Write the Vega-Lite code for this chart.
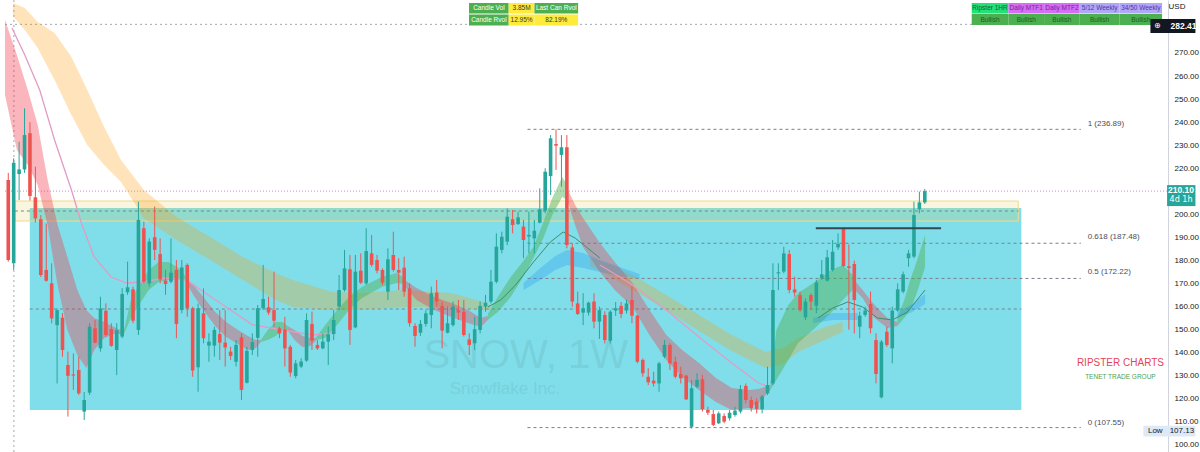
{
"$schema": "https://vega.github.io/schema/vega-lite/v6.json",
"width": 1168, "height": 452,
"autosize": {"type": "none"},
"padding": {"left": 0, "top": 0, "right": 32, "bottom": 0},
"background": "white",
"config": {"view": {"stroke": null}, "font": "Liberation Sans"},
"datasets": {
"candles": [
{"i":0,"o":214.9,"h":218,"l":179.5,"c":180.2},{"i":1,"o":178.8,"h":224.3,"l":175.9,"c":222.4},{"i":2,"o":217.5,"h":231.5,"l":206.2,"c":219.5},{"i":3,"o":219.5,"h":246,"l":218,"c":234.4},{"i":4,"o":235.2,"h":240,"l":206,"c":208},{"i":5,"o":207.4,"h":220.7,"l":196.5,"c":198.3},{"i":6,"o":197.9,"h":199.7,"l":172.9,"c":173.7},{"i":7,"o":175.9,"h":196,"l":170.8,"c":171.2},{"i":8,"o":170.1,"h":178.8,"l":152.8,"c":154.9},{"i":9,"o":152,"h":159.2,"l":126.7,"c":158.5},
{"i":10,"o":155.2,"h":157.2,"l":138.3,"c":141.2},{"i":11,"o":134.7,"h":140.5,"l":112.3,"c":130},{"i":12,"o":130.6,"h":139.7,"l":123.9,"c":130.1},{"i":13,"o":132.5,"h":138.3,"l":121.7,"c":122.4},{"i":14,"o":114.5,"h":123,"l":110.8,"c":119.5},{"i":15,"o":122.7,"h":152.8,"l":121.7,"c":151.3},{"i":16,"o":150.6,"h":154.2,"l":144.1,"c":144.4},{"i":17,"o":141.9,"h":164.3,"l":140.5,"c":159.2},{"i":18,"o":158.2,"h":161.4,"l":147,"c":147.7},{"i":19,"o":150.3,"h":152.8,"l":142.6,"c":143},
{"i":20,"o":141.2,"h":152.8,"l":130.3,"c":149.8},{"i":21,"o":147,"h":168,"l":146.3,"c":165.5},{"i":22,"o":166.2,"h":179.5,"l":165.1,"c":168.4},{"i":23,"o":167.5,"h":168.7,"l":152.8,"c":153.9},{"i":24,"o":149.9,"h":205.5,"l":147.7,"c":197.6},{"i":25,"o":194,"h":196.9,"l":170.1,"c":170.8},{"i":26,"o":170.1,"h":189.6,"l":168.7,"c":188.2},{"i":27,"o":190.1,"h":203.4,"l":180.2,"c":184.6},{"i":28,"o":182.8,"h":189.6,"l":170.1,"c":171.8},{"i":29,"o":171.3,"h":176,"l":165.1,"c":169.8},
{"i":30,"o":170.8,"h":189.6,"l":170.1,"c":174.7},{"i":31,"o":175.9,"h":180.2,"l":146.3,"c":152.5},{"i":32,"o":158.5,"h":180.2,"l":157.1,"c":177},{"i":33,"o":178.1,"h":178.8,"l":155.6,"c":159.3},{"i":34,"o":159.3,"h":160,"l":129.6,"c":132.3},{"i":35,"o":133.7,"h":161.4,"l":123.1,"c":159.3},{"i":36,"o":157.1,"h":167.9,"l":144.1,"c":146.3},{"i":37,"o":143.1,"h":148.4,"l":136.1,"c":144.8},{"i":38,"o":143.1,"h":151.3,"l":138.3,"c":149.9},{"i":39,"o":148.1,"h":158.5,"l":136.9,"c":144.4},
{"i":40,"o":144.4,"h":158.5,"l":134,"c":142.3},{"i":41,"o":140.5,"h":142.6,"l":136.9,"c":138.6},{"i":42,"o":136.1,"h":145.5,"l":134,"c":143.4},{"i":43,"o":146.7,"h":148.4,"l":119.5,"c":123.9},{"i":44,"o":127,"h":142.6,"l":126.7,"c":140.8},{"i":45,"o":141.2,"h":148.4,"l":139,"c":144.6},{"i":46,"o":146.5,"h":160.7,"l":138.3,"c":159.3},{"i":47,"o":159.3,"h":178.1,"l":158.5,"c":163.3},{"i":48,"o":159.7,"h":164.3,"l":156.4,"c":157.4},{"i":49,"o":158.5,"h":175.2,"l":151.3,"c":153.9},
{"i":50,"o":150.6,"h":151.3,"l":146.3,"c":148.4},{"i":51,"o":150.1,"h":155.6,"l":134,"c":141.9},{"i":52,"o":142.6,"h":143.4,"l":129.6,"c":131.4},{"i":53,"o":129.9,"h":136.9,"l":128.9,"c":135.4},{"i":54,"o":134,"h":137.6,"l":133.3,"c":136.2},{"i":55,"o":136.6,"h":157.1,"l":136.1,"c":154.2},{"i":56,"o":152.5,"h":157.8,"l":141.2,"c":145.3},{"i":57,"o":143.4,"h":145.5,"l":141.2,"c":141.9},{"i":58,"o":141.9,"h":148.4,"l":141.5,"c":144.8},{"i":59,"o":144.8,"h":151.3,"l":134.7,"c":148},
{"i":60,"o":148.1,"h":158.5,"l":145.5,"c":154.2},{"i":61,"o":160,"h":173.7,"l":158.5,"c":167.2},{"i":62,"o":167.2,"h":184.6,"l":166.5,"c":176.6},{"i":63,"o":176.2,"h":182.4,"l":143.4,"c":149.9},{"i":64,"o":151,"h":182.4,"l":150.6,"c":175.2},{"i":65,"o":175.6,"h":183.1,"l":169.8,"c":170.4},{"i":66,"o":170.1,"h":194,"l":169.4,"c":184.1},{"i":67,"o":183.1,"h":191.1,"l":177.3,"c":178.1},{"i":68,"o":180.2,"h":182.4,"l":174.4,"c":175.6},{"i":69,"o":175.9,"h":176.6,"l":169.4,"c":170.4},
{"i":70,"o":166.5,"h":185.3,"l":162.9,"c":180.5},{"i":71,"o":182.4,"h":192.5,"l":175.2,"c":175.9},{"i":72,"o":175.9,"h":181,"l":167.2,"c":174.7},{"i":73,"o":176.9,"h":181.7,"l":164.3,"c":166.5},{"i":74,"o":167.9,"h":170.1,"l":151.3,"c":152.8},{"i":75,"o":151.6,"h":152.8,"l":142.6,"c":147.3},{"i":76,"o":148.7,"h":154.2,"l":147.3,"c":152.5},{"i":77,"o":152.5,"h":158.5,"l":151.3,"c":157.1},{"i":78,"o":156.4,"h":168.7,"l":150.6,"c":165.8},{"i":79,"o":166.1,"h":171.6,"l":160,"c":162.2},
{"i":80,"o":160.3,"h":162.2,"l":141.9,"c":149.6},{"i":81,"o":148.7,"h":160,"l":148.4,"c":152.8},{"i":82,"o":152,"h":162.2,"l":151.3,"c":160},{"i":83,"o":158.5,"h":162.9,"l":154.2,"c":157.4},{"i":84,"o":157.8,"h":162.9,"l":147,"c":147.7},{"i":85,"o":145.8,"h":148.4,"l":139,"c":143.4},{"i":86,"o":144.1,"h":155.6,"l":141.2,"c":150.2},{"i":87,"o":149.9,"h":162.2,"l":148.4,"c":160.3},{"i":88,"o":160,"h":165.1,"l":157.8,"c":161.7},{"i":89,"o":162.2,"h":175.9,"l":161.4,"c":170.8},
{"i":90,"o":170.8,"h":191.8,"l":170.1,"c":186},{"i":91,"o":184.6,"h":192.5,"l":183.1,"c":190.3},{"i":92,"o":188.2,"h":202.6,"l":186.7,"c":199},{"i":93,"o":197.9,"h":201.9,"l":191.8,"c":195.4},{"i":94,"o":195.8,"h":201.2,"l":195.4,"c":198.7},{"i":95,"o":194.7,"h":197.6,"l":181,"c":188.9},{"i":96,"o":190.4,"h":201.2,"l":183.1,"c":191.1},{"i":97,"o":189.6,"h":197.6,"l":183.1,"c":192.9},{"i":98,"o":196.4,"h":211.3,"l":196.1,"c":202.2},{"i":99,"o":201.6,"h":220,"l":200.5,"c":218.5},
{"i":100,"o":216.6,"h":234.4,"l":208.4,"c":233},{"i":101,"o":230.5,"h":236.89,"l":219.3,"c":229.8},{"i":102,"o":225.8,"h":234.4,"l":212,"c":229.1},{"i":103,"o":229.1,"h":234.4,"l":185.3,"c":186.7},{"i":104,"o":185.7,"h":187.4,"l":160,"c":162.2},{"i":105,"o":161.4,"h":166.5,"l":156.4,"c":156.8},{"i":106,"o":157.4,"h":165.8,"l":152,"c":159.3},{"i":107,"o":157.4,"h":162.2,"l":156.1,"c":161.7},{"i":108,"o":162.2,"h":165.8,"l":150.6,"c":153.5},{"i":109,"o":153.5,"h":160,"l":146,"c":158.5},
{"i":110,"o":156.4,"h":158,"l":144,"c":145.5},{"i":111,"o":145.2,"h":158.5,"l":144,"c":157.8},{"i":112,"o":158.3,"h":162,"l":156,"c":159.3},{"i":113,"o":160.3,"h":162,"l":155,"c":156.8},{"i":114,"o":158.3,"h":163,"l":157,"c":161.4},{"i":115,"o":162.9,"h":168.7,"l":152.8,"c":156.1},{"i":116,"o":156.1,"h":156.4,"l":135.4,"c":136.1},{"i":117,"o":136.9,"h":137.5,"l":129.6,"c":131.1},{"i":118,"o":129.6,"h":133.3,"l":126,"c":127.2},{"i":119,"o":127.9,"h":131.8,"l":125.3,"c":126.7},
{"i":120,"o":126.7,"h":136.1,"l":123.1,"c":135.4},{"i":121,"o":138.3,"h":145.5,"l":137.6,"c":143.4},{"i":122,"o":143.4,"h":144.1,"l":132.5,"c":135.4},{"i":123,"o":136.1,"h":138.3,"l":128.9,"c":129.6},{"i":124,"o":130.8,"h":134,"l":126.7,"c":128.9},{"i":125,"o":130.1,"h":130.4,"l":119.5,"c":119.8},{"i":126,"o":107.9,"h":128.2,"l":107.13,"c":124.6},{"i":127,"o":125.3,"h":131.1,"l":124.6,"c":128.2},{"i":128,"o":128.5,"h":130.4,"l":114.5,"c":115.5},{"i":129,"o":115.2,"h":116.6,"l":113,"c":114},
{"i":130,"o":113.4,"h":115.2,"l":108.2,"c":108.7},{"i":131,"o":109.4,"h":114.5,"l":109.1,"c":113.7},{"i":132,"o":112.6,"h":113.7,"l":109.4,"c":110.1},{"i":133,"o":111.6,"h":115.2,"l":110.6,"c":114},{"i":134,"o":113,"h":116.6,"l":112.3,"c":114.9},{"i":135,"o":114.5,"h":126,"l":113.7,"c":124.2},{"i":136,"o":125.6,"h":126.7,"l":118.1,"c":119.5},{"i":137,"o":119.5,"h":121,"l":114.5,"c":115.9},{"i":138,"o":118.8,"h":120.2,"l":113.7,"c":115.6},{"i":139,"o":115.5,"h":121.7,"l":113.7,"c":121},
{"i":140,"o":122.4,"h":134,"l":121.7,"c":126},{"i":141,"o":126.7,"h":178.8,"l":126,"c":167.2},{"i":142,"o":174.4,"h":178.8,"l":167.2,"c":174.9},{"i":143,"o":175.2,"h":186,"l":174.4,"c":183.1},{"i":144,"o":182.8,"h":184.6,"l":165.8,"c":167.2},{"i":145,"o":167.5,"h":173,"l":164.3,"c":166.1},{"i":146,"o":165,"h":166.5,"l":157.8,"c":158.5},{"i":147,"o":155.4,"h":163.6,"l":154.2,"c":162.2},{"i":148,"o":165,"h":165.8,"l":158.5,"c":162.2},{"i":149,"o":160.4,"h":171.6,"l":157.1,"c":170.5},
{"i":150,"o":172.3,"h":180.2,"l":171.6,"c":174},{"i":151,"o":171.3,"h":184.6,"l":170.8,"c":181.4},{"i":152,"o":175.9,"h":188.9,"l":175.2,"c":183.8},{"i":153,"o":185.7,"h":191.8,"l":184.6,"c":187.2},{"i":154,"o":193.7,"h":194.2,"l":177.3,"c":177.6},{"i":155,"o":177.5,"h":187,"l":150,"c":176.8},{"i":156,"o":178.5,"h":180,"l":148.4,"c":162.9},{"i":157,"o":151.3,"h":157.8,"l":146.3,"c":156.1},{"i":158,"o":156.4,"h":160,"l":155.6,"c":158.3},{"i":159,"o":161.1,"h":166.5,"l":148.4,"c":150.6},
{"i":160,"o":145.5,"h":148.4,"l":126.7,"c":130.8},{"i":161,"o":120.7,"h":145.5,"l":120.2,"c":144.8},{"i":162,"o":149.1,"h":151.3,"l":142.6,"c":143.4},{"i":163,"o":141.9,"h":160,"l":135.4,"c":158.3},{"i":164,"o":158.3,"h":170.1,"l":157.8,"c":167.5},{"i":165,"o":166.5,"h":175.2,"l":165.8,"c":174},{"i":166,"o":181,"h":184.6,"l":177.3,"c":183.1},{"i":167,"o":181.7,"h":205.5,"l":181,"c":199.7},{"i":168,"o":202.2,"h":209.9,"l":200.5,"c":205.2},{"i":169,"o":205.2,"h":211,"l":204.5,"c":210.1}
],
"redc": [
{"g":"F1","i":-0.6,"a":284.3,"b":251.77},{"g":"F1","i":1.59,"a":269.12,"b":227.92},{"g":"F1","i":3.6,"a":253.94,"b":221.42},{"g":"F1","i":5.43,"a":238.76,"b":212.75},{"g":"F1","i":7.26,"a":214.91,"b":195.4},{"g":"F1","i":9.09,"a":195.4,"b":169.38},{"g":"F1","i":10.91,"a":181.52,"b":149.87},{"g":"F1","i":12.74,"a":167.21,"b":139.02},{"g":"F1","i":14.39,"a":158.54,"b":133.39},{"g":"F1","i":15.85,"a":155.07,"b":141.19},{"g":"F1","i":17.68,"a":153.34,"b":146.4},{"g":"F1","i":19.51,"a":151.17,"b":148.13},{"g":"F1","i":21.34,"a":149.0,"b":148.13},
{"g":"F3","i":32.67,"a":172.85,"b":171.12},{"g":"F3","i":34.13,"a":169.38,"b":165.05},{"g":"F3","i":35.96,"a":164.17,"b":158.54},{"g":"F3","i":38.15,"a":157.67,"b":151.6},{"g":"F3","i":40.17,"a":153.34,"b":146.83},{"g":"F3","i":42.36,"a":149.87,"b":143.79},{"g":"F3","i":44.19,"a":147.26,"b":141.19},{"g":"F3","i":45.65,"a":145.53,"b":142.06},{"g":"F3","i":46.57,"a":145.53,"b":144.66},
{"g":"F5","i":51.5,"a":151.6,"b":149.87},{"g":"F5","i":52.78,"a":149.87,"b":145.53},{"g":"F5","i":54.24,"a":147.26,"b":142.49},{"g":"F5","i":55.71,"a":146.4,"b":142.93},{"g":"F5","i":56.8,"a":146.4,"b":145.53},
{"g":"F7","i":73.07,"a":171.55,"b":168.95},{"g":"F7","i":75.27,"a":168.08,"b":162.87},{"g":"F7","i":78.56,"a":164.17,"b":158.54},{"g":"F7","i":81.67,"a":161.57,"b":155.5},{"g":"F7","i":84.77,"a":158.54,"b":152.9},{"g":"F7","i":87.15,"a":155.07,"b":151.17},{"g":"F7","i":88.43,"a":155.94,"b":154.2},
{"g":"F9","i":103.06,"a":211.45,"b":206.24},{"g":"F9","i":104.52,"a":204.07,"b":195.4},{"g":"F9","i":105.98,"a":198.43,"b":185.86},{"g":"F9","i":109.09,"a":187.59,"b":175.02},{"g":"F9","i":111.83,"a":179.35,"b":167.21},{"g":"F9","i":115.12,"a":170.25,"b":159.84},{"g":"F9","i":118.23,"a":158.54,"b":147.7},{"g":"F9","i":121.34,"a":147.7,"b":136.85},{"g":"F9","i":124.26,"a":141.19,"b":129.48},{"g":"F9","i":127.37,"a":135.55,"b":123.85},{"g":"F9","i":130.48,"a":129.05,"b":118.64},{"g":"F9","i":133.4,"a":124.71,"b":115.17},{"g":"F9","i":136.51,"a":123.85,"b":116.04},{"g":"F9","i":138.34,"a":124.28,"b":118.21},{"g":"F9","i":140.53,"a":126.02,"b":123.85},
{"g":"F11","i":155.71,"a":172.42,"b":168.08},{"g":"F11","i":157.53,"a":167.21,"b":163.74},{"g":"F11","i":159.73,"a":160.71,"b":155.07},{"g":"F11","i":162.11,"a":155.07,"b":150.73},{"g":"F11","i":163.93,"a":153.34,"b":151.6}
],
"greenc": [
{"g":"F2","i":21.34,"a":149.87,"b":148.13},{"g":"F2","i":22.61,"a":162.87,"b":155.07},{"g":"F2","i":24.08,"a":169.38,"b":160.71},{"g":"F2","i":25.91,"a":175.88,"b":167.21},{"g":"F2","i":27.73,"a":179.35,"b":170.68},{"g":"F2","i":29.56,"a":179.35,"b":171.55},{"g":"F2","i":31.39,"a":176.75,"b":171.55},{"g":"F2","i":32.67,"a":173.28,"b":171.55},
{"g":"F4","i":46.57,"a":145.53,"b":144.66},{"g":"F4","i":47.84,"a":149.87,"b":145.53},{"g":"F4","i":49.31,"a":153.34,"b":147.26},{"g":"F4","i":50.59,"a":153.34,"b":149.87},{"g":"F4","i":51.5,"a":151.6,"b":149.87},
{"g":"F6","i":56.8,"a":146.83,"b":145.53},{"g":"F6","i":58.45,"a":152.03,"b":146.4},{"g":"F6","i":60.64,"a":158.54,"b":152.03},{"g":"F6","i":62.83,"a":164.17,"b":158.54},{"g":"F6","i":65.21,"a":168.51,"b":163.74},{"g":"F6","i":68.87,"a":172.85,"b":168.51},{"g":"F6","i":71.61,"a":174.59,"b":170.25},{"g":"F6","i":73.07,"a":172.42,"b":169.81},
{"g":"F8","i":88.43,"a":156.81,"b":154.2},{"g":"F8","i":90.26,"a":164.17,"b":157.67},{"g":"F8","i":92.64,"a":172.85,"b":164.17},{"g":"F8","i":94.83,"a":179.35,"b":172.42},{"g":"F8","i":96.84,"a":185.86,"b":181.09},{"g":"F8","i":98.67,"a":196.71,"b":189.78},{"g":"F8","i":100.31,"a":207.11,"b":199.74},{"g":"F8","i":102.14,"a":216.21,"b":207.54},{"g":"F8","i":103.06,"a":212.75,"b":206.24},
{"g":"F10","i":140.53,"a":126.88,"b":123.85},{"g":"F10","i":141.63,"a":149.87,"b":128.18},{"g":"F10","i":143.83,"a":160.71,"b":136.85},{"g":"F10","i":145.65,"a":165.91,"b":144.23},{"g":"F10","i":148.76,"a":170.68,"b":150.73},{"g":"F10","i":151.69,"a":175.88,"b":157.24},{"g":"F10","i":153.88,"a":178.05,"b":162.87},{"g":"F10","i":155.71,"a":173.72,"b":167.21},
{"g":"F12","i":163.93,"a":155.07,"b":151.6},{"g":"F12","i":165.22,"a":162.87,"b":155.07},{"g":"F12","i":166.31,"a":171.55,"b":158.54},{"g":"F12","i":167.59,"a":180.22,"b":166.35},{"g":"F12","i":169.05,"a":191.06,"b":177.18}
],
"orangec": [
{"g":"S1","i":0.86,"a":291.67,"b":286.03},{"g":"S1","i":3.05,"a":289.5,"b":279.96},{"g":"S1","i":5.43,"a":283.43,"b":272.15},{"g":"S1","i":8.54,"a":278.66,"b":258.28},{"g":"S1","i":11.65,"a":268.25,"b":243.1},{"g":"S1","i":14.57,"a":253.94,"b":230.09},{"g":"S1","i":17.68,"a":237.9,"b":221.42},{"g":"S1","i":20.79,"a":223.59,"b":214.05},{"g":"S1","i":25.0,"a":210.58,"b":198.44},{"g":"S1","i":31.02,"a":198.87,"b":188.89},{"g":"S1","i":37.24,"a":190.2,"b":180.22},{"g":"S1","i":43.27,"a":181.52,"b":171.55},{"g":"S1","i":49.31,"a":174.59,"b":162.87},{"g":"S1","i":52.42,"a":171.55,"b":159.84},{"g":"S1","i":59.73,"a":166.35,"b":158.54},{"g":"S1","i":65.21,"a":165.91,"b":158.54},{"g":"S1","i":72.53,"a":167.21,"b":159.84},{"g":"S1","i":81.67,"a":165.91,"b":159.84},{"g":"S1","i":87.7,"a":162.01,"b":158.54},{"g":"S1","i":88.98,"a":160.28,"b":158.97},
{"g":"S2","i":107.26,"a":181.09,"b":177.62},{"g":"S2","i":110.92,"a":178.49,"b":173.28},{"g":"S2","i":115.12,"a":173.72,"b":167.21},{"g":"S2","i":121.34,"a":165.05,"b":158.54},{"g":"S2","i":127.37,"a":156.37,"b":149.43},{"g":"S2","i":133.4,"a":147.7,"b":140.76},{"g":"S2","i":139.62,"a":140.33,"b":133.39},{"g":"S2","i":142.91,"a":142.06,"b":135.12},{"g":"S2","i":145.65,"a":146.4,"b":140.33},{"g":"S2","i":150.59,"a":151.17,"b":145.53},{"g":"S2","i":153.88,"a":153.34,"b":149.0}
],
"bluec": [
{"g":"B1","i":95.01,"a":170.25,"b":167.21},{"g":"B1","i":98.12,"a":176.75,"b":171.55},{"g":"B1","i":100.86,"a":181.96,"b":175.88},{"g":"B1","i":103.06,"a":184.56,"b":178.05},{"g":"B1","i":105.98,"a":183.26,"b":176.75},{"g":"B1","i":109.09,"a":180.22,"b":175.02},{"g":"B1","i":112.74,"a":177.18,"b":173.28},{"g":"B1","i":116.4,"a":174.15,"b":171.98},
{"g":"B2","i":148.4,"a":155.07,"b":152.9},{"g":"B2","i":152.05,"a":157.24,"b":154.2},{"g":"B2","i":156.62,"a":157.24,"b":154.2},
{"g":"B3","i":163.93,"a":157.67,"b":155.07},{"g":"B3","i":166.68,"a":161.14,"b":157.67},{"g":"B3","i":169.05,"a":165.48,"b":161.14}
],
"pinkl": [
{"g":"P1","i":0.68,"p":280.83},{"g":"P1","i":3.05,"p":269.12},{"g":"P1","i":5.8,"p":253.94},{"g":"P1","i":8.54,"p":232.26},{"g":"P1","i":11.65,"p":210.58},{"g":"P1","i":13.47,"p":196.27},{"g":"P1","i":15.85,"p":181.52},{"g":"P1","i":18.96,"p":172.85},{"g":"P1","i":21.88,"p":170.25},{"g":"P1","i":25.0,"p":170.68},{"g":"P1","i":28.65,"p":172.42},{"g":"P1","i":32.85,"p":171.55},{"g":"P1","i":36.87,"p":165.05},{"g":"P1","i":40.17,"p":159.84},{"g":"P1","i":45.1,"p":152.03},{"g":"P1","i":50.59,"p":149.87},{"g":"P1","i":56.07,"p":147.7},{"g":"P1","i":59.73,"p":148.57},
{"g":"P2","i":109.09,"p":178.05},{"g":"P2","i":114.57,"p":170.25},{"g":"P2","i":121.34,"p":158.54},{"g":"P2","i":127.37,"p":146.83},{"g":"P2","i":133.4,"p":135.55},{"g":"P2","i":138.34,"p":126.88},{"g":"P2","i":140.53,"p":125.15}
],
"greenl": [
{"g":"L1","i":88.43,"p":159.84},{"g":"L1","i":90.81,"p":162.88},{"g":"L1","i":93.55,"p":169.38},{"g":"L1","i":96.84,"p":179.35},{"g":"L1","i":99.95,"p":188.02},{"g":"L1","i":102.32,"p":192.36},{"g":"L1","i":104.52,"p":189.76},{"g":"L1","i":107.26,"p":184.56},{"g":"L1","i":109.09,"p":181.09},
{"g":"L2","i":149.31,"p":155.07},{"g":"L2","i":152.05,"p":159.41},{"g":"L2","i":154.79,"p":162.01},{"g":"L2","i":157.53,"p":159.84},{"g":"L2","i":160.28,"p":155.07},{"g":"L2","i":163.02,"p":154.2},{"g":"L2","i":165.77,"p":157.67},{"g":"L2","i":169.05,"p":167.21}
],
"zones": [
{"k":"cyan","x0":3.97,"x1":186.8,"p0":202.77,"p1":115.17},
{"k":"yellow","x0":1.22,"x1":186.24,"p0":205.8,"p1":197.13}
],
"hlines": [
{"k":"fib","x0":95.74,"x1":197.76,"p":236.89},{"k":"fib","x0":95.74,"x1":197.76,"p":187.48},{"k":"fib","x0":95.74,"x1":197.76,"p":172.22},{"k":"fib","x0":95.74,"x1":197.76,"p":107.55},
{"k":"mid","x0":3.97,"x1":186.8,"p":158.97},{"k":"mid","x0":1.22,"x1":186.24,"p":201.47},
{"k":"top","x0":-0.6,"x1":210.6,"p":282.41},{"k":"last","x0":-0.6,"x1":213.6,"p":210.1},
{"k":"level","x0":148.9,"x1":172.0,"p":194}
],
"vline": [{"i":1.04,"p0":96.96,"p1":292.97}],
"labels": [
{"k":"fib","t":"1 (236.89)","i":199.03,"p":239.2},{"k":"fib","t":"0.618 (187.48)","i":199.03,"p":190.2},{"k":"fib","t":"0.5 (172.22)","i":199.03,"p":175.0},{"k":"fib","t":"0 (107.55)","i":199.03,"p":109.5},
{"k":"wm1","t":"SNOW, 1W","i":95.4,"p":138.6},{"k":"wm2","t":"Snowflake Inc.","i":91.6,"p":124.3},
{"k":"rip","t":"RIPSTER CHARTS","i":205.07,"p":135.6},{"k":"tenet","t":"TENET TRADE GROUP","i":205.07,"p":129.5}
],
"boxes": [
{"k":"g","t":"Candle Vol","x0":84.96,"x1":92.27,"xm":88.62,"p0":291.67,"p1":287.12,"pm":289.4},
{"k":"y","t":"3.85M","x0":92.27,"x1":97.03,"xm":94.65,"p0":291.67,"p1":287.12,"pm":289.4},
{"k":"g","t":"Last Can Rvol","x0":97.03,"x1":105.07,"xm":101.05,"p0":291.67,"p1":287.12,"pm":289.4},
{"k":"g","t":"Candle Rvol","x0":84.96,"x1":92.27,"xm":88.62,"p0":286.68,"p1":281.91,"pm":284.3},
{"k":"y","t":"12.95%","x0":92.27,"x1":97.03,"xm":94.65,"p0":286.68,"p1":281.91,"pm":284.3},
{"k":"y","t":"82.19%","x0":97.03,"x1":105.07,"xm":101.05,"p0":286.68,"p1":281.91,"pm":284.3},
{"k":"lime","t":"Ripster 1HR","x0":177.65,"x1":184.41,"xm":181.03,"p0":291.67,"p1":287.12,"pm":289.4},
{"k":"orchid","t":"Daily MTF1","x0":184.41,"x1":190.99,"xm":187.7,"p0":291.67,"p1":287.12,"pm":289.4},
{"k":"orchid","t":"Daily MTF2","x0":190.99,"x1":197.57,"xm":194.28,"p0":291.67,"p1":287.12,"pm":289.4},
{"k":"lav","t":"5/12 Weekly","x0":197.57,"x1":204.88,"xm":201.23,"p0":291.67,"p1":287.12,"pm":289.4},
{"k":"lav","t":"34/50 Weekly","x0":204.88,"x1":212.75,"xm":208.82,"p0":291.67,"p1":287.12,"pm":289.4},
{"k":"bull","t":"Bullish","x0":177.65,"x1":184.41,"xm":181.03,"p0":286.9,"p1":282.13,"pm":284.5},
{"k":"bull","t":"Bullish","x0":184.41,"x1":190.99,"xm":187.7,"p0":286.9,"p1":282.13,"pm":284.5},
{"k":"bull","t":"Bullish","x0":190.99,"x1":197.57,"xm":194.28,"p0":286.9,"p1":282.13,"pm":284.5},
{"k":"bull","t":"Bullish","x0":197.57,"x1":204.88,"xm":201.23,"p0":286.9,"p1":282.13,"pm":284.5},
{"k":"bull","t":"Bullish","x0":204.88,"x1":212.75,"xm":208.82,"p0":286.9,"p1":282.13,"pm":284.5},
{"k":"dark","t":"","x0":210.6,"x1":218.9,"xm":214.7,"p0":284.73,"p1":278.66,"pm":281.7},
{"k":"teal","t":"","x0":213.67,"x1":218.9,"xm":216.2,"p0":212.7,"p1":203.6,"pm":208.1},
{"k":"low","t":"","x0":209.3,"x1":218.9,"xm":214.1,"p0":108.3,"p1":103.7,"pm":106.0}
],
"btext": [
{"k":"wb","t":"282.41","i":216.7,"p":281.7},{"k":"w","t":"⊕","i":211.9,"p":281.8},
{"k":"wb","t":"210.10","i":216.25,"p":210.7},{"k":"w","t":"4d 1h","i":216.25,"p":206.1},
{"k":"d","t":"Low","i":211.5,"p":106.0},{"k":"d","t":"107.13","i":216.4,"p":106.0},
{"k":"d","t":"USD","i":215.5,"p":289.9}
]
},
"layer": [
{"data": {"name": "zones"}, "transform": [{"filter": "datum.k == 'cyan'"}],
 "mark": {"type": "rect", "fill": "#80deea"},
 "encoding": {
  "x": {"field": "x0", "type": "quantitative", "scale": {"domain": [-0.603, 212.92], "nice": false, "zero": false}, "axis": null},
  "x2": {"field": "x1"},
  "y": {"field": "p0", "type": "quantitative", "scale": {"domain": [96.96, 292.97], "nice": false, "zero": false},
        "axis": {"orient": "right", "title": null, "values": [100,110,120,130,140,150,160,170,180,190,200,220,230,240,250,260,270], "tickCount": 40, "format": ".2f", "ticks": false, "grid": false, "domainColor": "#d1d4dc", "labelColor": "#131722", "labelFontSize": 8, "labelPadding": 6, "labelOverlap": false, "labelBound": false, "labelFont": "Liberation Sans"}},
  "y2": {"field": "p1"}}},
{"data": {"name": "zones"}, "transform": [{"filter": "datum.k == 'yellow'"}],
 "mark": {"type": "rect", "fill": "#e6c84a", "fillOpacity": 0.18, "stroke": "#f1d98e", "strokeWidth": 1},
 "encoding": {"x": {"field": "x0", "type": "quantitative", "axis": null}, "x2": {"field": "x1"}, "y": {"field": "p0", "type": "quantitative"}, "y2": {"field": "p1"}}},
{"data": {"name": "labels"}, "transform": [{"filter": "datum.k == 'wm1'"}],
 "mark": {"type": "text", "fontSize": 40, "font": "Liberation Sans", "color": "#000000", "opacity": 0.06},
 "encoding": {"x": {"field": "i", "type": "quantitative", "axis": null}, "y": {"field": "p", "type": "quantitative"}, "text": {"field": "t"}}},
{"data": {"name": "labels"}, "transform": [{"filter": "datum.k == 'wm2'"}],
 "mark": {"type": "text", "fontSize": 17, "font": "Liberation Sans", "color": "#000000", "opacity": 0.06},
 "encoding": {"x": {"field": "i", "type": "quantitative", "axis": null}, "y": {"field": "p", "type": "quantitative"}, "text": {"field": "t"}}},
{"data": {"name": "hlines"}, "transform": [{"filter": "datum.k == 'mid'"}],
 "mark": {"type": "rule", "color": "#6f8790", "strokeWidth": 1, "strokeDash": [3, 3]},
 "encoding": {"x": {"field": "x0", "type": "quantitative", "axis": null}, "x2": {"field": "x1"}, "y": {"field": "p", "type": "quantitative"}}},
{"data": {"name": "hlines"}, "transform": [{"filter": "datum.k == 'fib'"}],
 "mark": {"type": "rule", "color": "#7b7f8a", "strokeWidth": 1, "strokeDash": [3, 3]},
 "encoding": {"x": {"field": "x0", "type": "quantitative", "axis": null}, "x2": {"field": "x1"}, "y": {"field": "p", "type": "quantitative"}}},
{"data": {"name": "hlines"}, "transform": [{"filter": "datum.k == 'top'"}],
 "mark": {"type": "rule", "color": "#a3a6ae", "strokeWidth": 1, "strokeDash": [2, 3]},
 "encoding": {"x": {"field": "x0", "type": "quantitative", "axis": null}, "x2": {"field": "x1"}, "y": {"field": "p", "type": "quantitative"}}},
{"data": {"name": "hlines"}, "transform": [{"filter": "datum.k == 'last'"}],
 "mark": {"type": "rule", "color": "#c58cc4", "strokeWidth": 1, "strokeDash": [1, 2]},
 "encoding": {"x": {"field": "x0", "type": "quantitative", "axis": null}, "x2": {"field": "x1"}, "y": {"field": "p", "type": "quantitative"}}},
{"data": {"name": "vline"},
 "mark": {"type": "rule", "color": "#a3a6ae", "strokeWidth": 1, "strokeDash": [2, 3]},
 "encoding": {"x": {"field": "i", "type": "quantitative", "axis": null}, "y": {"field": "p0", "type": "quantitative"}, "y2": {"field": "p1"}}},
{"data": {"name": "orangec"},
 "mark": {"type": "area", "color": "#ff9800", "opacity": 0.27},
 "encoding": {"x": {"field": "i", "type": "quantitative", "axis": null}, "y": {"field": "a", "type": "quantitative"}, "y2": {"field": "b"}, "detail": {"field": "g"}}},
{"data": {"name": "redc"},
 "mark": {"type": "area", "color": "#f23645", "opacity": 0.36},
 "encoding": {"x": {"field": "i", "type": "quantitative", "axis": null}, "y": {"field": "a", "type": "quantitative"}, "y2": {"field": "b"}, "detail": {"field": "g"}}},
{"data": {"name": "greenc"},
 "mark": {"type": "area", "color": "#4caf50", "opacity": 0.45},
 "encoding": {"x": {"field": "i", "type": "quantitative", "axis": null}, "y": {"field": "a", "type": "quantitative"}, "y2": {"field": "b"}, "detail": {"field": "g"}}},
{"data": {"name": "bluec"},
 "mark": {"type": "area", "color": "#2196f3", "opacity": 0.3},
 "encoding": {"x": {"field": "i", "type": "quantitative", "axis": null}, "y": {"field": "a", "type": "quantitative"}, "y2": {"field": "b"}, "detail": {"field": "g"}}},
{"data": {"name": "pinkl"},
 "mark": {"type": "line", "color": "#e39bc4", "strokeWidth": 1.3},
 "encoding": {"x": {"field": "i", "type": "quantitative", "axis": null}, "y": {"field": "p", "type": "quantitative"}, "detail": {"field": "g"}}},
{"data": {"name": "greenl"},
 "mark": {"type": "line", "color": "#3e8e6a", "strokeWidth": 1},
 "encoding": {"x": {"field": "i", "type": "quantitative", "axis": null}, "y": {"field": "p", "type": "quantitative"}, "detail": {"field": "g"}}},
{"data": {"name": "candles"},
 "mark": {"type": "rule", "strokeWidth": 1},
 "encoding": {"x": {"field": "i", "type": "quantitative", "axis": null}, "y": {"field": "l", "type": "quantitative"}, "y2": {"field": "h"},
  "color": {"condition": {"test": "datum.c >= datum.o", "value": "#26a69a"}, "value": "#ef5350"}}},
{"data": {"name": "candles"},
 "mark": {"type": "bar", "width": 3.6},
 "encoding": {"x": {"field": "i", "type": "quantitative", "axis": null}, "y": {"field": "o", "type": "quantitative"}, "y2": {"field": "c"},
  "color": {"condition": {"test": "datum.c >= datum.o", "value": "#26a69a"}, "value": "#ef5350"}}},
{"data": {"name": "hlines"}, "transform": [{"filter": "datum.k == 'level'"}],
 "mark": {"type": "rule", "color": "#37474f", "strokeWidth": 2},
 "encoding": {"x": {"field": "x0", "type": "quantitative", "axis": null}, "x2": {"field": "x1"}, "y": {"field": "p", "type": "quantitative"}}},
{"data": {"name": "labels"}, "transform": [{"filter": "datum.k == 'fib'"}],
 "mark": {"type": "text", "align": "left", "fontSize": 8, "font": "Liberation Sans", "color": "#4a4e59"},
 "encoding": {"x": {"field": "i", "type": "quantitative", "axis": null}, "y": {"field": "p", "type": "quantitative"}, "text": {"field": "t"}}},
{"data": {"name": "labels"}, "transform": [{"filter": "datum.k == 'rip'"}],
 "mark": {"type": "text", "fontSize": 10, "font": "Liberation Sans", "color": "#e5435a"},
 "encoding": {"x": {"field": "i", "type": "quantitative", "axis": null}, "y": {"field": "p", "type": "quantitative"}, "text": {"field": "t"}}},
{"data": {"name": "labels"}, "transform": [{"filter": "datum.k == 'tenet'"}],
 "mark": {"type": "text", "fontSize": 6.5, "font": "Liberation Sans", "color": "#4f9f55"},
 "encoding": {"x": {"field": "i", "type": "quantitative", "axis": null}, "y": {"field": "p", "type": "quantitative"}, "text": {"field": "t"}}},
{"data": {"name": "boxes"},
 "mark": {"type": "rect"},
 "encoding": {"x": {"field": "x0", "type": "quantitative", "axis": null}, "x2": {"field": "x1"}, "y": {"field": "p0", "type": "quantitative"}, "y2": {"field": "p1"},
  "color": {"field": "k", "type": "nominal", "legend": null, "scale": {"domain": ["g","y","lime","orchid","lav","bull","dark","teal","low"], "range": ["#4caf50","#ffeb3b","#22e07a","#d56ef2","#b3a6f6","#4caf50","#131722","#26a69a","#dde9f7"]}}}},
{"data": {"name": "boxes"},
 "mark": {"type": "text", "fontSize": 6.5, "font": "Liberation Sans"},
 "encoding": {"x": {"field": "xm", "type": "quantitative", "axis": null}, "y": {"field": "pm", "type": "quantitative"}, "text": {"field": "t"},
  "color": {"condition": [{"test": "datum.k == 'g'", "value": "#ffffff"}, {"test": "datum.k == 'orchid'", "value": "#7b1fa2"}, {"test": "datum.k == 'lav'", "value": "#4a3aa8"}, {"test": "datum.k == 'y'", "value": "#333333"}], "value": "#1b5e20"}}},
{"data": {"name": "btext"}, "transform": [{"filter": "datum.k == 'wb'"}],
 "mark": {"type": "text", "fontSize": 8.5, "fontWeight": "bold", "font": "Liberation Sans", "color": "#ffffff"},
 "encoding": {"x": {"field": "i", "type": "quantitative", "axis": null}, "y": {"field": "p", "type": "quantitative"}, "text": {"field": "t"}}},
{"data": {"name": "btext"}, "transform": [{"filter": "datum.k == 'w'"}],
 "mark": {"type": "text", "fontSize": 8, "font": "DejaVu Sans", "color": "#ffffff"},
 "encoding": {"x": {"field": "i", "type": "quantitative", "axis": null}, "y": {"field": "p", "type": "quantitative"}, "text": {"field": "t"}}},
{"data": {"name": "btext"}, "transform": [{"filter": "datum.k == 'd'"}],
 "mark": {"type": "text", "fontSize": 8, "font": "Liberation Sans", "color": "#131722"},
 "encoding": {"x": {"field": "i", "type": "quantitative", "axis": null}, "y": {"field": "p", "type": "quantitative"}, "text": {"field": "t"}}}
]
}
